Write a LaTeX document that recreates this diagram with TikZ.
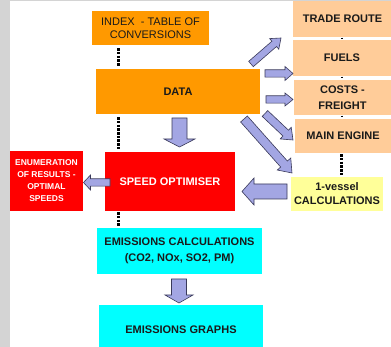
\documentclass[tikz,border=0pt]{standalone}
\usepackage{fontspec}
\setmainfont{Liberation Sans}
\usetikzlibrary{calc}
\definecolor{orangeA}{HTML}{FF9900}
\definecolor{peach}{HTML}{FFCC99}
\definecolor{paleyellow}{HTML}{FFFF99}
\definecolor{redA}{HTML}{FF0000}
\definecolor{cyanA}{HTML}{00FFFF}
\definecolor{arrowfill}{HTML}{A3A6E3}
\definecolor{arrowline}{HTML}{3A3A5A}
\definecolor{txt}{HTML}{1A1A1A}
\definecolor{bandgray}{HTML}{D4D4D4}
\newcommand{\blockarrow}[5]{%
  \coordinate (ba-h) at ($(#2)!#5!(#1)$);
  \draw[barrow] ($(#1)!#3!90:(#2)$) -- ($(ba-h)!#3!90:(#2)$) -- ($(ba-h)!#4!90:(#2)$) -- (#2)
    -- ($(ba-h)!#4!-90:(#2)$) -- ($(ba-h)!#3!-90:(#2)$) -- ($(#1)!#3!-90:(#2)$) -- cycle;}
\begin{document}
\begin{tikzpicture}[x=1pt,y=-1pt,
  box/.style={rectangle, draw=none, inner sep=0pt, align=center, text=txt,
    font=\bfseries\fontsize{11}{13.5}\selectfont},
  barrow/.style={fill=arrowfill, draw=arrowline, line width=0.6pt, line join=miter},
  dotline/.style={draw=black, line width=3pt, dash pattern=on 2.6pt off 1.1pt},
  tinydot/.style={draw=black, line width=2pt, dash pattern=on 1.8pt off 1.6pt}]
\clip (0,0) rectangle (391,347);
\fill[white] (0,0) rectangle (391,347);
\fill[bandgray] (0,0) rectangle (10,347);
\fill[bandgray] (0,0) rectangle (391,1.3);

% nodes
\node[box, fill=orangeA, minimum width=117pt, minimum height=34pt,
  font=\fontsize{11}{13.5}\selectfont] (index) at (150.5,28) {INDEX\ \ - TABLE OF\\CONVERSIONS};
\node[box, fill=orangeA, minimum width=164pt, minimum height=45pt] (data) at (178,91.5) {DATA};
\node[box, fill=peach, minimum width=99pt, minimum height=36pt] (trade) at (342.5,19) {TRADE ROUTE};
\node[box, fill=peach, minimum width=98pt, minimum height=36pt] (fuels) at (342,58) {FUELS};
\node[box, fill=peach, minimum width=97pt, minimum height=35pt,
  font=\bfseries\fontsize{11}{16}\selectfont] (costs) at (342.5,97.5) {COSTS -\\FREIGHT};
\node[box, fill=peach, minimum width=96pt, minimum height=34pt] (engine) at (343,136) {MAIN ENGINE};
\node[box, fill=paleyellow, minimum width=92pt, minimum height=34pt,
  font=\bfseries\fontsize{11}{14}\selectfont] (vessel) at (337,194) {1-vessel\\CALCULATIONS};
\node[box, fill=redA, text=white, minimum width=130pt, minimum height=59pt] (speed) at (170,181.5) {SPEED OPTIMISER};
\node[box, fill=redA, text=white, minimum width=73pt, minimum height=60pt,
  font=\bfseries\fontsize{8.5}{12}\selectfont] (enum) at (46.5,181) {ENUMERATION\\OF RESULTS -\\OPTIMAL\\SPEEDS};
\node[box, fill=cyanA, minimum width=165pt, minimum height=46pt,
  font=\bfseries\fontsize{11}{15.5}\selectfont] (emcalc) at (179.5,251) {EMISSIONS CALCULATIONS\\(CO2, NOx, SO2, PM)};
\node[box, fill=cyanA, minimum width=164pt, minimum height=50pt] (emgraph) at (181,330) {EMISSIONS GRAPHS};

% dotted links
\draw[dotline] ([xshift=-32.5pt,yshift=-3pt]index.south) -- ([xshift=-60pt,yshift=3pt]data.north);
\draw[dotline] ([xshift=-60pt,yshift=-3pt]data.south) -- ([xshift=-52pt,yshift=2pt]speed.north);
\draw[dotline] ([xshift=-52pt,yshift=-1pt]speed.south) -- ([xshift=-61.5pt,yshift=1pt]emcalc.north);
\draw[dotline] ([xshift=-2pt,yshift=-1pt]engine.south) -- ([xshift=4pt,yshift=2pt]vessel.north);
\draw[tinydot] ([xshift=-0.5pt,yshift=-0.5pt]trade.south) -- ([yshift=1pt]fuels.north);
\draw[tinydot] ([yshift=-0.5pt]fuels.south) -- ([xshift=-0.5pt,yshift=1pt]costs.north);
\draw[tinydot] ([xshift=-0.5pt,yshift=-0.5pt]costs.south) -- ([xshift=-1pt,yshift=1pt]engine.north);

% block arrows
\coordinate (a1s) at (179.5,118);   \coordinate (a1e) at (179.5,147);
\blockarrow{a1s}{a1e}{7.5pt}{15.5pt}{8pt}
\coordinate (a2s) at (179,279);     \coordinate (a2e) at (179,303);
\blockarrow{a2s}{a2e}{7.5pt}{14pt}{8pt}
\coordinate (a3s) at (110,182.5);   \coordinate (a3e) at (83.5,182.5);
\blockarrow{a3s}{a3e}{3.7pt}{7.5pt}{7pt}
\coordinate (a4s) at (287,191.5);   \coordinate (a4e) at (242,191.5);
\blockarrow{a4s}{a4e}{7.5pt}{13.5pt}{12pt}
\coordinate (a5s) at (265,73.5);    \coordinate (a5e) at (293,73.5);
\blockarrow{a5s}{a5e}{3.7pt}{7pt}{8pt}
\coordinate (a6s) at (266,99.5);    \coordinate (a6e) at (293,99.5);
\blockarrow{a6s}{a6e}{3.7pt}{6.5pt}{8pt}
\coordinate (a7s) at (251,64);      \coordinate (a7e) at (281,38);
\blockarrow{a7s}{a7e}{3.5pt}{7pt}{9pt}
\coordinate (a8s) at (265,113.5);   \coordinate (a8e) at (293,140);
\blockarrow{a8s}{a8e}{4pt}{8pt}{10pt}
\coordinate (a9s) at (244,119);     \coordinate (a9e) at (292,173);
\blockarrow{a9s}{a9e}{4.5pt}{9pt}{12pt}
\end{tikzpicture}
\end{document}
